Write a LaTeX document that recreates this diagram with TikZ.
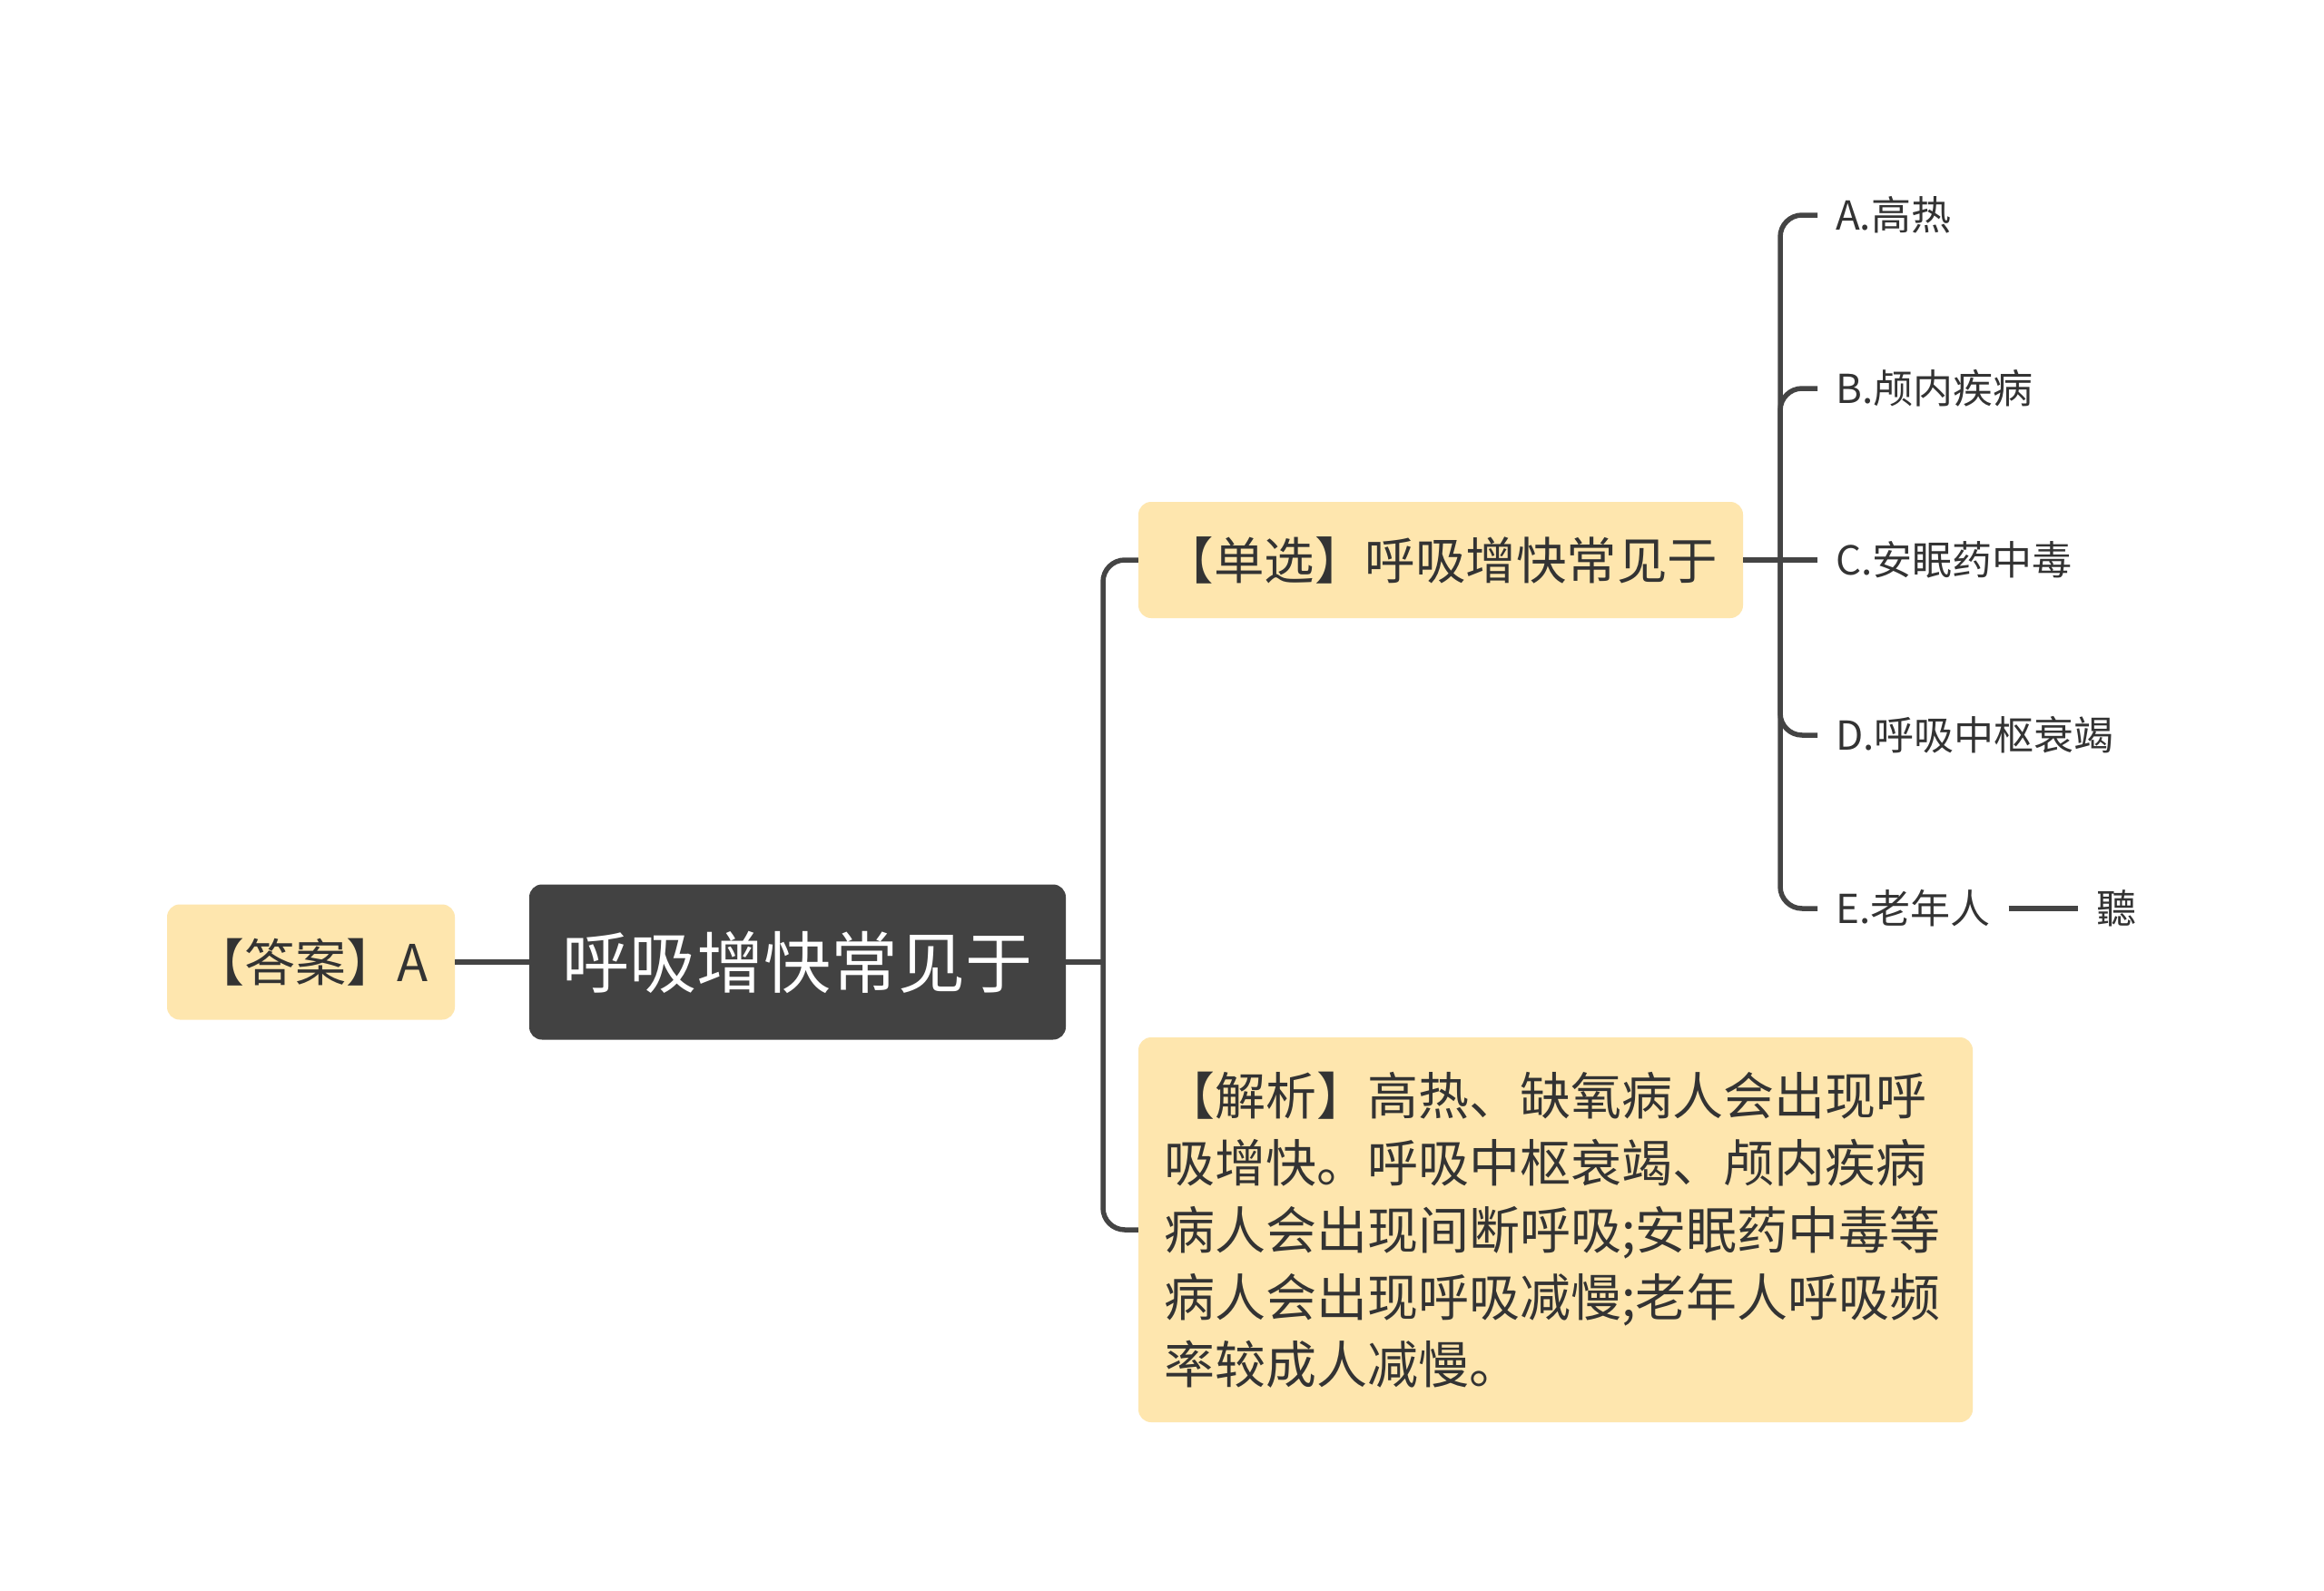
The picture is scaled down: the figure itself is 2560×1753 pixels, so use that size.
\documentclass[tikz,border=0pt]{standalone}
\usepackage{fontspec}
\setmainfont{Noto Sans CJK SC}
\definecolor{boxfill}{RGB}{254,230,174}
\definecolor{rootfill}{RGB}{66,66,66}
\definecolor{linec}{RGB}{68,68,68}
\definecolor{txt}{RGB}{51,51,51}
\tikzset{
  ybox/.style={fill=boxfill, rounded corners=14pt, text=txt, inner sep=0pt},
  rootbox/.style={fill=rootfill, rounded corners=14pt, text=white, inner sep=0pt},
  conn/.style={draw=linec, line width=5.5pt, rounded corners=24pt},
  straightconn/.style={draw=linec, line width=5.5pt},
  leaf/.style={anchor=west, inner xsep=20pt, inner ysep=0pt, text=txt, font=\fontsize{44}{44}\selectfont},
}
\begin{document}
\begin{tikzpicture}[x=1pt,y=-1pt]
\useasboundingbox[fill=white] (0,0) rectangle (2560,1753);

\node[rootbox, minimum width=591pt, minimum height=171pt, font=\fontsize{74}{74}\selectfont] (root) at (878.5,1060) {呼吸增快常见于};
\node[ybox, minimum width=317pt, minimum height=127pt, font=\fontsize{56}{56}\selectfont] (ans) at (342.5,1060) {【答案】A};
\node[ybox, minimum width=666pt, minimum height=128pt, font=\fontsize{55.5}{55.5}\selectfont] (single) at (1587,617) {【单选】呼吸增快常见于};
\node[ybox, text width=863pt, inner xsep=28pt, minimum height=424pt, align=left, font=\fontsize{56}{74}\selectfont] (anal) at (1713.5,1355) {【解析】高热、缺氧病人会出现呼\\吸增快。呼吸中枢衰竭、颅内疾病\\病人会出现间断呼吸;安眠药中毒等\\病人会出现呼吸减慢;老年人呼吸频\\率较成人减慢。};

\node[leaf] (la) at (2002,237) {A.高热};
\node[leaf] (lb) at (2002,428) {B.颅内疾病};
\node[leaf] (lc) at (2002,617) {C.安眠药中毒};
\node[leaf] (ld) at (2002,810) {D.呼吸中枢衰竭};
\node[leaf] (le) at (2002,1001) {E.老年人};
\node[leaf] (ting) at (2289,1001) {聽};

\coordinate (jl) at (1215,1060);
\coordinate (jr) at (1961,617);

\draw[straightconn] (ans.east) -- (root.west);
\draw[straightconn] (root.east) -- (jl);
\draw[conn] (jl) |- (single.west);
\draw[conn] (jl) |- (anal.west);

\draw[straightconn] (single.east) -- (jr);
\draw[conn] (jr) |- (la.west);
\draw[conn] (jr) |- (lb.west);
\draw[straightconn] (jr) -- (lc.west);
\draw[conn] (jr) |- (ld.west);
\draw[conn] (jr) |- (le.west);
\draw[straightconn] (le.east) -- (ting.west);
\end{tikzpicture}
\end{document}
